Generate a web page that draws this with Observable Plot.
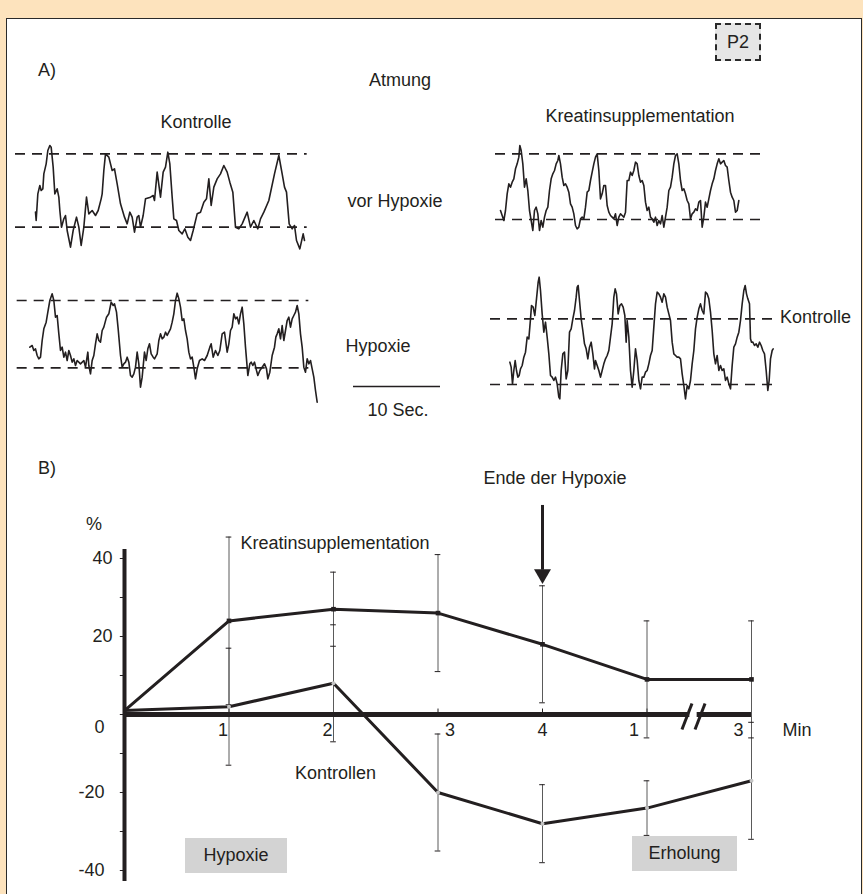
<!DOCTYPE html>
<html><head><meta charset="utf-8">
<script src="https://cdn.jsdelivr.net/npm/d3@7"></script>
<script src="https://cdn.jsdelivr.net/npm/@observablehq/plot@0.6"></script>
<style>
body{margin:0;background:#fde3bd;font-family:"Liberation Sans",Arial,sans-serif;}
#fig{position:relative;width:863px;height:894px;overflow:hidden;background:#fde3bd;}
#panel{position:absolute;left:6px;top:18px;width:854px;height:900px;background:#fff;border:1px solid #2a2a2a;}
.abs{position:absolute;}
.lbl{position:absolute;font-size:18px;color:#231f20;white-space:nowrap;transform:translate(-50%,-50%);line-height:1;}
.box{position:absolute;background:#d3d3d3;font-size:18px;color:#231f20;display:flex;align-items:center;justify-content:center;}
</style></head>
<body><div id="fig"><div id="panel"></div></div>
<script>
// ---------- Teil A: Atmungskurven (digitalisiert; Zeit in 1/26 s, Amplitude in willk. Einheiten) ----------
const atmungKontrolleVor = [[105,45],[107,20],[112,100],[118,125],[122,110],[127,115],[130,160],[137,190],[142,230],[148,245],[152,240],[158,180],[163,100],[170,115],[175,90],[178,50],[183,0],[190,25],[195,35],[200,-10],[210,-60],[218,-10],[228,30],[235,0],[242,-55],[250,0],[258,90],[265,40],[275,50],[285,35],[293,50],[302,85],[305,100],[310,170],[315,220],[325,210],[335,170],[342,175],[350,130],[360,70],[372,30],[380,10],[388,45],[395,30],[402,-15],[410,30],[415,35],[420,0],[428,35],[435,85],[450,90],[458,95],[462,80],[470,165],[480,90],[488,165],[495,180],[502,225],[508,190],[515,90],[520,25],[528,20],[535,-10],[545,-20],[553,-5],[562,-30],[570,-40],[578,-10],[590,40],[600,45],[610,75],[618,85],[625,145],[632,65],[640,120],[650,145],[660,160],[670,185],[680,165],[688,135],[697,105],[705,0],[715,-5],[725,10],[740,45],[750,0],[760,20],[772,-5],[780,25],[790,45],[805,80],[822,160],[835,215],[845,160],[852,120],[858,105],[866,10],[875,-5],[882,5],[888,-40],[898,-65],[908,-20],[912,-40]];
const atmungKontrolleHyp = [[88,62],[95,67],[100,52],[105,57],[110,37],[115,27],[120,32],[125,82],[130,117],[137,137],[142,167],[148,202],[155,222],[160,202],[165,152],[170,157],[175,102],[180,52],[185,62],[190,32],[195,47],[200,22],[205,52],[210,37],[215,17],[220,27],[225,7],[230,22],[240,12],[250,22],[255,2],[262,47],[265,7],[270,-18],[275,22],[280,37],[285,72],[290,102],[295,82],[300,77],[305,112],[310,122],[318,152],[325,162],[332,197],[338,187],[342,192],[348,167],[353,117],[360,37],[365,2],[370,12],[375,17],[380,32],[385,17],[390,-23],[395,-28],[400,-18],[405,2],[410,47],[415,12],[420,-58],[425,-28],[432,47],[437,22],[442,57],[447,72],[452,42],[458,32],[462,27],[470,42],[475,82],[480,102],[485,87],[490,92],[495,107],[500,97],[505,107],[510,117],[515,137],[520,162],[525,202],[530,224],[535,207],[540,182],[545,142],[550,147],[555,112],[560,87],[565,47],[570,27],[575,32],[580,2],[585,-33],[590,-3],[597,22],[605,27],[612,22],[620,37],[628,62],[632,72],[638,32],[645,52],[652,37],[658,52],[665,102],[672,107],[680,47],[685,72],[690,112],[695,122],[700,162],[705,147],[710,152],[715,132],[720,162],[725,182],[730,132],[735,62],[740,2],[742,-23],[748,12],[752,17],[757,7],[762,17],[768,-8],[772,-23],[778,-8],[785,2],[792,12],[798,-3],[802,-33],[808,-13],[815,37],[822,62],[826,92],[830,102],[835,117],[840,87],[845,127],[850,82],[855,112],[860,142],[865,152],[870,122],[875,147],[880,157],[885,167],[890,187],[895,162],[900,102],[905,62],[910,2],[915,-13],[920,27],[925,12],[930,22],[935,-3],[940,-28],[945,-68],[950,-103]];
const atmungKreatinVor = [[30,27],[35,12],[40,-3],[45,27],[50,77],[55,107],[60,97],[65,112],[70,122],[75,152],[80,167],[85,187],[88,222],[92,207],[97,167],[102,97],[107,122],[112,87],[117,27],[122,-3],[127,-33],[132,27],[137,37],[142,17],[147,-33],[152,-3],[157,-23],[162,7],[167,27],[172,37],[177,87],[182,122],[187,137],[192,147],[197,167],[202,177],[205,192],[210,167],[215,127],[220,102],[225,107],[230,97],[235,82],[240,47],[245,37],[250,17],[255,-18],[260,-28],[265,-23],[270,2],[275,7],[280,2],[285,37],[290,82],[295,87],[300,117],[305,142],[310,167],[315,187],[320,197],[325,147],[330,62],[335,77],[340,102],[345,102],[350,42],[355,22],[360,12],[365,7],[370,2],[375,17],[380,-18],[385,7],[390,17],[395,12],[400,7],[405,22],[410,117],[415,117],[420,142],[425,132],[430,147],[435,172],[440,167],[445,132],[450,112],[455,117],[460,102],[465,52],[470,27],[475,37],[480,7],[485,2],[490,-8],[495,7],[500,-18],[505,-3],[510,-13],[515,12],[520,-23],[525,7],[530,37],[535,87],[540,97],[545,127],[550,167],[555,192],[560,197],[565,167],[570,117],[575,87],[580,92],[585,77],[590,57],[595,47],[600,2],[605,17],[610,22],[615,32],[620,27],[625,52],[630,57],[635,-23],[640,7],[645,52],[650,37],[655,62],[660,87],[665,107],[670,122],[675,147],[680,167],[685,182],[690,167],[695,172],[700,177],[705,162],[710,157],[715,117],[720,82],[725,67],[730,57],[735,22],[740,27],[745,57]];
const atmungKreatinKontrolle = [[58,67],[62,52],[66,2],[70,42],[74,72],[78,42],[82,22],[86,27],[90,47],[95,57],[100,82],[105,97],[110,142],[115,137],[120,197],[123,237],[128,232],[133,207],[138,257],[143,307],[146,322],[150,282],[155,212],[160,157],[165,187],[170,142],[175,92],[180,27],[185,22],[190,12],[195,22],[200,2],[205,-38],[208,-43],[212,42],[217,92],[222,97],[227,17],[232,42],[237,157],[242,167],[247,197],[252,222],[257,262],[260,292],[263,297],[267,252],[272,197],[277,162],[282,122],[287,107],[292,77],[297,112],[302,127],[307,92],[312,47],[315,72],[320,57],[325,42],[330,22],[335,42],[340,62],[345,77],[350,87],[355,102],[360,142],[365,182],[370,262],[374,287],[378,272],[383,212],[388,237],[393,242],[398,232],[403,207],[407,127],[410,192],[415,142],[420,42],[425,-8],[430,42],[435,107],[440,72],[445,12],[450,-13],[455,22],[460,22],[465,37],[470,42],[475,62],[480,87],[485,102],[490,172],[495,242],[500,277],[505,272],[510,262],[515,247],[520,272],[525,262],[530,232],[535,212],[540,192],[545,127],[550,92],[555,87],[560,82],[565,82],[570,77],[575,32],[580,-3],[585,-43],[590,-3],[595,-13],[600,12],[605,62],[610,102],[615,167],[620,202],[625,227],[630,242],[635,222],[640,212],[645,277],[650,272],[655,257],[660,217],[665,162],[670,92],[675,62],[680,87],[685,42],[690,57],[695,42],[700,47],[705,12],[710,22],[715,2],[720,-13],[725,57],[730,112],[735,122],[740,142],[745,157],[750,192],[755,242],[760,282],[764,297],[768,272],[772,257],[777,242],[780,137],[783,127],[787,127],[792,117],[797,122],[802,112],[807,127],[812,117],[817,102],[822,92],[827,42],[832,-18],[836,12],[840,77],[845,102],[848,107]];
// Referenzniveaus (gestrichelt): [unten, oben]
const niveauKontrolleVor = [0, 220];
const niveauKontrolleHyp = [0, 202];
const niveauKreatinVor = [0, 197];
const niveauKreatinKontrolle = [0, 197];
const skalaSekunden = 10;

// ---------- Teil B: Atmung in % (Mittelwert ± Fehler) ----------
const zeitpunkte = [0, 1, 2, 3, 4, 5, 6];
const xTickLabels = ["1", "2", "3", "4", "1", "3"];
const yTickLabels = ["40", "20", "0", "-20", "-40"];
const yTicks = [-40, -30, -20, -10, 0, 10, 20, 30, 40];
const kreatinMittel = [1, 24, 27, 26, 18, 9, 9];
const kreatinFehler = [0, 21.5, 9.5, 15, 15, 15, 15];
const kontrolleMittel = [1, 2, 8, -20, -28, -24, -17];
const kontrolleFehler = [0, 15, 15, 15, 10, 7, 15];
const endeHypoxie = 4;
const achsenBruch = 5.445;

const INK = "#231f20";
const FONT = "'Liberation Sans', Arial, sans-serif";
const fig = document.getElementById("fig");
function place(el, left, top) {
  const d = document.createElement("div");
  d.className = "abs"; d.style.left = left + "px"; d.style.top = top + "px";
  d.appendChild(el); fig.appendChild(d);
}
function label(text, x, y, extra) {
  const d = document.createElement("div");
  d.className = "lbl"; d.textContent = text;
  d.style.left = x + "px"; d.style.top = y + "px";
  if (extra) Object.assign(d.style, extra);
  fig.appendChild(d);
}
function tracePlot(pts, levels, dash, left, top, w, h, base) {
  const svg = Plot.plot({
    width: w, height: h, marginTop: 0, marginRight: 0, marginBottom: 0, marginLeft: 0,
    x: {domain: [0, 3 * w], axis: null},
    y: {domain: [base - 3 * h, base], axis: null},
    style: {background: "transparent", overflow: "visible"},
    marks: [
      Plot.ruleY(levels, {x1: dash[0], x2: dash[1], stroke: INK, strokeWidth: 1.7, strokeDasharray: "10,7"}),
      Plot.line(pts, {x: d => d[0], y: d => d[1], stroke: INK, strokeWidth: 1.6, strokeLinejoin: "round"})
    ]
  });
  place(svg, left, top);
}
tracePlot(atmungKontrolleVor, niveauKontrolleVor, [45, 920], 0, 130, 320, 130, 290);
tracePlot(atmungKontrolleHyp, niveauKontrolleHyp, [50, 925], 0, 280, 330, 130, 262);
tracePlot(atmungKreatinVor, niveauKreatinVor, [15, 820], 490, 130, 290, 110, 267);
tracePlot(atmungKreatinKontrolle, niveauKreatinKontrolle, [0, 860], 490, 270, 300, 130, 342);

// Zeitskala 10 s
place(Plot.plot({
  width: 113, height: 20, marginTop: 0, marginBottom: 0, marginLeft: 13, marginRight: 13,
  x: {domain: [0, skalaSekunden], axis: null}, y: {domain: [0, 1], axis: null},
  style: {background: "transparent", overflow: "visible"},
  marks: [Plot.ruleY([0.5], {x1: 0, x2: skalaSekunden, stroke: INK, strokeWidth: 1.4})]
}), 340, 376);

// Texte Teil A
label("A)", 47, 70);
label("Atmung", 400, 80);
label("Kontrolle", 196, 122);
label("Kreatinsupplementation", 640, 116);
label("vor Hypoxie", 395, 201);
label("Hypoxie", 378, 346);
label(skalaSekunden + " Sec.", 398, 410);
label("Kontrolle", 780, 317, {transform: "translate(0,-50%)"});
label("B)", 47, 468);
label("Ende der Hypoxie", 555, 478);
label("%", 94, 524);

// P2-Kasten
const p2 = document.createElement("div");
Object.assign(p2.style, {position: "absolute", left: "715px", top: "23px", width: "42px", height: "34px",
  background: "#e6e6e6", border: "2px dashed #2a2a2a", fontSize: "18px", color: INK,
  display: "flex", alignItems: "center", justifyContent: "center"});
p2.textContent = "P2";
fig.appendChild(p2);

// ---------- Teil B Plot ----------
const kreatin = zeitpunkte.map((t, i) => ({t, m: kreatinMittel[i], lo: kreatinMittel[i] - kreatinFehler[i], hi: kreatinMittel[i] + kreatinFehler[i]}));
const kontrolle = zeitpunkte.map((t, i) => ({t, m: kontrolleMittel[i], lo: kontrolleMittel[i] - kontrolleFehler[i], hi: kontrolleMittel[i] + kontrolleFehler[i]}));
const bars = [...kreatin.slice(1), ...kontrolle.slice(1)];
const caps = bars.flatMap(d => [{t: d.t, v: d.lo}, {t: d.t, v: d.hi}]);
const capW = 0.027;
const xShift = [-6, -6, 12, 0, -13, -13];
const pxPerX = (751 - 124) / 6;

const B = Plot.plot({
  width: 863, height: 464, marginLeft: 124, marginRight: 112, marginTop: 128, marginBottom: 24,
  x: {domain: [0, 6], axis: null},
  y: {domain: [-40, 40], axis: null},
  style: {background: "transparent", overflow: "visible", fontFamily: FONT, fontSize: "18px", color: INK},
  marks: [
    // y ticks
    Plot.ruleY(yTicks, {x1: -0.04, x2: 0, stroke: INK, strokeWidth: 1}),
    // x ticks
    Plot.ruleX(zeitpunkte.slice(1), {y1: 0, y2: 1.4, stroke: INK, strokeWidth: 1}),
    // error bars
    Plot.ruleX(bars, {x: "t", y1: "lo", y2: "hi", stroke: "#5a5a5a", strokeWidth: 1}),
    Plot.ruleY(caps, {y: "v", x1: d => d.t - capW, x2: d => d.t + capW, stroke: INK, strokeWidth: 1}),
    // axes
    Plot.ruleY([0], {x1: 0, x2: achsenBruch - 0.035, stroke: INK, strokeWidth: 5}),
    Plot.ruleY([0], {x1: achsenBruch + 0.035, x2: 6, stroke: INK, strokeWidth: 5}),
    Plot.ruleX([0], {y1: -42.8, y2: 42.3, stroke: INK, strokeWidth: 4}),
    Plot.link([-1, 1], {x1: s => achsenBruch + s * 0.0625 - 0.048, x2: s => achsenBruch + s * 0.0625 + 0.048, y1: -3.85, y2: 2.8, stroke: INK, strokeWidth: 3}),
    // lines
    Plot.line(kreatin, {x: "t", y: "m", stroke: INK, strokeWidth: 3}),
    Plot.line(kontrolle, {x: "t", y: "m", stroke: INK, strokeWidth: 3}),
    Plot.dot(kreatin.slice(1), {x: "t", y: "m", symbol: "square", r: 2.6, fill: INK}),
    Plot.dot(kontrolle.slice(1), {x: "t", y: "m", r: 2, fill: "#c4c4c4"}),
    // arrow
    Plot.ruleX([endeHypoxie], {y1: 53.6, y2: 37, stroke: INK, strokeWidth: 3}),
    Plot.dot([endeHypoxie], {x: d => d, y: 36, symbol: "triangle", rotate: 180, r: 6.3, fill: INK}),
    // tick labels
    Plot.text(xTickLabels, {x: (d, i) => i + 1 + xShift[i] / pxPerX, y: 0, dy: 16, text: d => d, fill: INK}),
    Plot.text(["Min"], {x: 6, y: 0, dx: 31, dy: 16, text: d => d, textAnchor: "start", fill: INK}),
    Plot.text(yTickLabels.filter(d => +d > 0), {x: 0, y: d => +d, dx: -12, text: d => d, textAnchor: "end", fill: INK}),
    Plot.text(yTickLabels.filter(d => +d < 0), {x: 0, y: d => +d, dx: -20, text: d => d, textAnchor: "end", fill: INK}),
    Plot.text(yTickLabels.filter(d => +d === 0), {x: 0, y: 0, dx: -20, dy: 13, text: d => d, textAnchor: "end", fill: INK}),
    // series labels
    Plot.text(["Kreatinsupplementation"], {x: 1.11, y: 44, text: d => d, textAnchor: "start", fill: INK}),
    Plot.text(["Kontrollen"], {x: 2.02, y: -15, text: d => d, fill: INK})
  ]
});
place(B, 0, 430);

// Phasen-Kästen
const hb = document.createElement("div"); hb.className = "box"; hb.textContent = "Hypoxie";
Object.assign(hb.style, {left: "185px", top: "838px", width: "102px", height: "35px"});
fig.appendChild(hb);
const eb = document.createElement("div"); eb.className = "box"; eb.textContent = "Erholung";
Object.assign(eb.style, {left: "632px", top: "836px", width: "105px", height: "35px"});
fig.appendChild(eb);
</script>
</body></html>
